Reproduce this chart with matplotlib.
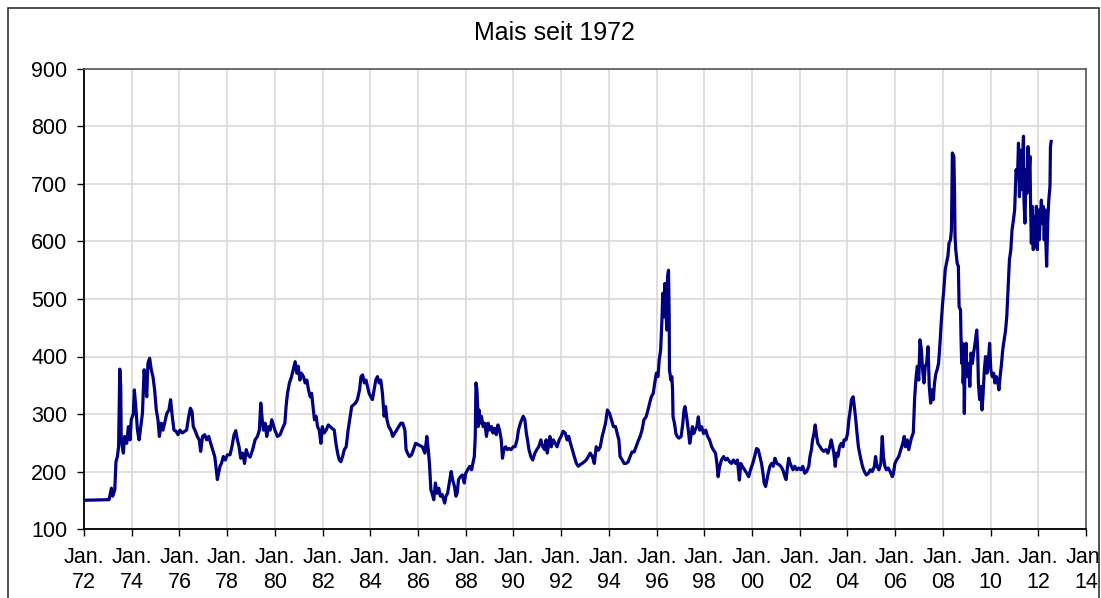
import matplotlib
matplotlib.use("Agg")
import matplotlib.pyplot as plt
from matplotlib.patches import Rectangle

plt.rcParams['font.family'] = ['Liberation Sans', 'DejaVu Sans']

title = "Mais seit 1972"
xticks_years = list(range(1972, 2015, 2))
xtick_labels = ["Jan.\n%02d" % (y % 100) for y in xticks_years]
yticks = list(range(100, 1000, 100))

# --- price readings (decimal year, value), per period ---
dates_70s = [1972.00, 1973.05, 1973.09, 1973.15, 1973.20, 1973.29, 1973.34, 1973.40, 1973.45, 1973.50,
             1973.54, 1973.56, 1973.65, 1973.70, 1973.79, 1973.86, 1973.93, 1973.98, 1974.07, 1974.11,
             1974.17, 1974.24, 1974.31, 1974.38, 1974.45, 1974.52, 1974.57, 1974.63, 1974.68, 1974.75,
             1974.82, 1974.89, 1974.96, 1975.03, 1975.10, 1975.16, 1975.24, 1975.31, 1975.38, 1975.47,
             1975.56, 1975.63, 1975.70, 1975.77, 1975.86, 1975.94, 1976.02, 1976.12, 1976.22, 1976.30,
             1976.39, 1976.46, 1976.53, 1976.58, 1976.67, 1976.75, 1976.83, 1976.89, 1976.97, 1977.06,
             1977.14, 1977.23, 1977.31, 1977.39, 1977.48, 1977.53, 1977.59, 1977.64, 1977.70, 1977.76,
             1977.84, 1977.92, 1978.01, 1978.12, 1978.20, 1978.29, 1978.36, 1978.43, 1978.50, 1978.57,
             1978.65, 1978.73, 1978.80, 1978.87, 1978.96, 1979.07, 1979.17, 1979.27, 1979.35, 1979.41,
             1979.47, 1979.52, 1979.59, 1979.66, 1979.73, 1979.80, 1979.87]
prices_70s = [150, 151, 159, 171, 157, 168, 217, 226, 243, 378,
              348, 255, 232, 261, 249, 278, 255, 290, 301, 342,
              313, 272, 255, 278, 301, 377, 354, 330, 388, 397,
              377, 365, 342, 307, 290, 261, 284, 272, 284, 301,
              307, 325, 296, 272, 270, 264, 272, 267, 270, 272,
              296, 310, 304, 278, 270, 261, 255, 235, 261, 264,
              255, 261, 249, 238, 226, 209, 186, 197, 209, 214,
              226, 220, 229, 229, 243, 264, 271, 255, 243, 223,
              232, 214, 238, 229, 225, 238, 255, 261, 272, 319,
              290, 272, 284, 261, 278, 272, 290]

dates_80s = [1980.00, 1980.11, 1980.22, 1980.32, 1980.42, 1980.47, 1980.53, 1980.61, 1980.70, 1980.77,
             1980.85, 1980.92, 1980.98, 1981.05, 1981.11, 1981.20, 1981.27, 1981.34, 1981.41, 1981.48,
             1981.54, 1981.60, 1981.66, 1981.73, 1981.79, 1981.86, 1981.93, 1981.99, 1982.07, 1982.15,
             1982.24, 1982.32, 1982.40, 1982.49, 1982.56, 1982.63, 1982.70, 1982.77, 1982.84, 1982.91,
             1982.99, 1983.07, 1983.16, 1983.22, 1983.30, 1983.38, 1983.46, 1983.55, 1983.61, 1983.68,
             1983.75, 1983.82, 1983.88, 1983.95, 1984.02, 1984.09, 1984.16, 1984.23, 1984.30, 1984.37,
             1984.44, 1984.51, 1984.58, 1984.64, 1984.70, 1984.77, 1984.86, 1984.94, 1985.03, 1985.11,
             1985.20, 1985.28, 1985.36, 1985.45, 1985.50, 1985.56, 1985.64, 1985.73, 1985.81, 1985.90,
             1986.04, 1986.18, 1986.29, 1986.37, 1986.43, 1986.48, 1986.54, 1986.59, 1986.66, 1986.73,
             1986.80, 1986.87, 1986.94, 1987.01, 1987.12, 1987.17, 1987.24, 1987.31, 1987.39, 1987.45,
             1987.53, 1987.59, 1987.64, 1987.70, 1987.78, 1987.86, 1987.94, 1988.00, 1988.08, 1988.17,
             1988.25, 1988.30, 1988.36, 1988.40, 1988.43, 1988.47, 1988.50, 1988.52, 1988.56, 1988.61,
             1988.66, 1988.73, 1988.80, 1988.87, 1988.94, 1989.01, 1989.08, 1989.14, 1989.21, 1989.28,
             1989.35, 1989.42, 1989.49, 1989.54, 1989.60, 1989.67, 1989.74, 1989.82, 1989.90, 1989.99]
prices_80s = [272, 261, 264, 275, 284, 313, 336, 354, 365, 377,
              391, 371, 383, 359, 371, 365, 354, 359, 342, 330,
              336, 313, 290, 296, 278, 272, 249, 278, 267, 272,
              281, 278, 275, 272, 249, 232, 220, 217, 226, 238,
              243, 272, 296, 313, 316, 319, 325, 342, 365, 368,
              354, 359, 348, 336, 330, 325, 342, 359, 365, 354,
              359, 336, 296, 313, 290, 278, 272, 261, 267, 272,
              278, 284, 284, 272, 238, 232, 226, 229, 238, 249,
              246, 243, 232, 261, 238, 214, 168, 162, 151, 180,
              162, 171, 157, 160, 145, 157, 162, 180, 200, 186,
              174, 157, 162, 186, 191, 194, 180, 197, 203, 209,
              203, 214, 226, 261, 354, 342, 313, 278, 307, 284,
              296, 278, 284, 261, 284, 272, 278, 267, 275, 264,
              281, 272, 255, 223, 238, 243, 238, 240, 238, 243]

dates_90s = [1990.07, 1990.15, 1990.21, 1990.29, 1990.35, 1990.41, 1990.48, 1990.54, 1990.59, 1990.65,
             1990.73, 1990.81, 1990.90, 1990.98, 1991.06, 1991.15, 1991.23, 1991.31, 1991.37, 1991.42,
             1991.48, 1991.53, 1991.59, 1991.67, 1991.75, 1991.83, 1991.92, 1992.00, 1992.08, 1992.17,
             1992.25, 1992.32, 1992.39, 1992.47, 1992.55, 1992.64, 1992.72, 1992.80, 1992.88, 1992.97,
             1993.05, 1993.14, 1993.22, 1993.31, 1993.39, 1993.47, 1993.56, 1993.64, 1993.72, 1993.79,
             1993.86, 1993.94, 1994.03, 1994.11, 1994.19, 1994.28, 1994.35, 1994.42, 1994.47, 1994.56,
             1994.64, 1994.72, 1994.81, 1994.89, 1994.97, 1995.06, 1995.14, 1995.22, 1995.31, 1995.39,
             1995.47, 1995.56, 1995.64, 1995.71, 1995.78, 1995.86, 1995.92, 1995.99, 1996.06, 1996.11,
             1996.17, 1996.22, 1996.26, 1996.31, 1996.35, 1996.39, 1996.43, 1996.46, 1996.50, 1996.53,
             1996.54, 1996.60, 1996.64, 1996.67, 1996.69, 1996.75, 1996.81, 1996.86, 1996.94, 1997.03,
             1997.10, 1997.15, 1997.19, 1997.26, 1997.33, 1997.39, 1997.44, 1997.50, 1997.56, 1997.61,
             1997.69, 1997.75, 1997.81, 1997.89, 1997.97, 1998.06, 1998.14, 1998.22, 1998.31, 1998.39,
             1998.47, 1998.53, 1998.58, 1998.64, 1998.72, 1998.81, 1998.89, 1998.97, 1999.06, 1999.14,
             1999.22, 1999.31, 1999.39, 1999.47, 1999.53, 1999.61, 1999.69, 1999.78, 1999.86, 1999.94]
prices_90s = [243, 255, 272, 284, 290, 296, 290, 267, 255, 238,
              226, 220, 232, 238, 243, 255, 243, 238, 255, 232,
              249, 261, 243, 255, 249, 243, 255, 261, 270, 267,
              255, 261, 249, 238, 226, 214, 209, 212, 214, 217,
              220, 226, 232, 226, 214, 243, 237, 243, 261, 272,
              284, 307, 301, 290, 278, 278, 266, 255, 226, 220,
              214, 214, 217, 226, 234, 234, 243, 252, 261, 272,
              290, 295, 307, 319, 330, 336, 353, 371, 365, 394,
              411, 458, 510, 469, 527, 481, 446, 539, 550, 469,
              377, 359, 365, 342, 295, 284, 266, 261, 258, 261,
              284, 307, 313, 295, 272, 249, 261, 278, 266, 272,
              278, 295, 272, 278, 266, 272, 261, 255, 243, 237,
              232, 214, 191, 208, 220, 226, 220, 223, 217, 214,
              220, 214, 220, 185, 214, 208, 203, 197, 191, 203]

dates_00s = [2000.03, 2000.11, 2000.19, 2000.26, 2000.33, 2000.40, 2000.46, 2000.51, 2000.57, 2000.63,
             2000.68, 2000.75, 2000.82, 2000.89, 2000.96, 2001.04, 2001.13, 2001.21, 2001.29, 2001.38,
             2001.43, 2001.49, 2001.54, 2001.60, 2001.65, 2001.72, 2001.79, 2001.88, 2001.96, 2002.04,
             2002.13, 2002.21, 2002.29, 2002.38, 2002.43, 2002.49, 2002.54, 2002.60, 2002.65, 2002.71,
             2002.76, 2002.85, 2002.93, 2003.01, 2003.10, 2003.18, 2003.26, 2003.32, 2003.38, 2003.43,
             2003.49, 2003.54, 2003.60, 2003.67, 2003.74, 2003.81, 2003.86, 2003.94, 2004.01, 2004.06,
             2004.12, 2004.17, 2004.24, 2004.29, 2004.35, 2004.40, 2004.46, 2004.51, 2004.57, 2004.63,
             2004.71, 2004.79, 2004.88, 2004.96, 2005.04, 2005.13, 2005.18, 2005.24, 2005.32, 2005.40,
             2005.46, 2005.51, 2005.57, 2005.63, 2005.71, 2005.79, 2005.88, 2005.93, 2005.99, 2006.06,
             2006.15, 2006.24, 2006.32, 2006.38, 2006.43, 2006.51, 2006.57, 2006.63, 2006.68, 2006.76,
             2006.82, 2006.88, 2006.93, 2006.99, 2007.04, 2007.10, 2007.15, 2007.21, 2007.26, 2007.32,
             2007.38, 2007.43, 2007.49, 2007.54, 2007.60, 2007.65, 2007.71, 2007.76, 2007.82, 2007.88,
             2007.93, 2007.99, 2008.04, 2008.10, 2008.15, 2008.21, 2008.26, 2008.32, 2008.36, 2008.40,
             2008.46, 2008.49, 2008.51, 2008.54, 2008.60, 2008.65, 2008.68, 2008.74, 2008.76, 2008.79,
             2008.82, 2008.85, 2008.88, 2008.90, 2008.93, 2008.97, 2009.01, 2009.07, 2009.13, 2009.18,
             2009.24, 2009.29, 2009.35, 2009.42, 2009.46, 2009.49, 2009.54, 2009.60, 2009.64, 2009.68,
             2009.74, 2009.79, 2009.85, 2009.90, 2009.96]
prices_00s = [214, 226, 240, 238, 226, 214, 197, 180, 174, 186,
              197, 209, 214, 209, 223, 214, 212, 209, 203, 191,
              186, 209, 223, 214, 209, 203, 209, 203, 206, 203,
              209, 197, 200, 209, 226, 238, 255, 267, 281, 261,
              249, 243, 238, 235, 238, 232, 243, 255, 243, 232,
              209, 232, 226, 243, 249, 243, 255, 255, 267, 290,
              307, 325, 330, 313, 290, 267, 243, 232, 220, 209,
              200, 194, 197, 203, 200, 209, 226, 209, 203, 214,
              261, 226, 209, 203, 206, 200, 191, 197, 214, 220,
              226, 238, 249, 261, 243, 255, 238, 249, 258, 267,
              330, 365, 383, 359, 429, 412, 377, 354, 383, 388,
              417, 348, 319, 342, 325, 354, 371, 377, 388, 423,
              458, 493, 516, 551, 562, 574, 597, 603, 620, 754,
              748, 684, 609, 586, 562, 557, 487, 481, 435, 388,
              423, 354, 383, 301, 388, 423, 365, 388, 348, 406,
              388, 406, 423, 446, 412, 354, 325, 348, 307, 330,
              377, 400, 371, 388, 423]

dates_10s = [2010.01, 2010.07, 2010.13, 2010.18, 2010.24, 2010.29, 2010.35, 2010.40, 2010.46, 2010.51,
             2010.57, 2010.63, 2010.68, 2010.74, 2010.79, 2010.85, 2010.90, 2010.96, 2011.01, 2011.07,
             2011.13, 2011.17, 2011.21, 2011.25, 2011.29, 2011.33, 2011.38, 2011.40, 2011.44, 2011.49,
             2011.53, 2011.57, 2011.61, 2011.65, 2011.68, 2011.71, 2011.75, 2011.79, 2011.83, 2011.88,
             2011.92, 2011.96, 2012.00, 2012.04, 2012.08, 2012.13, 2012.17, 2012.21, 2012.25, 2012.29,
             2012.32, 2012.35, 2012.38, 2012.40, 2012.44, 2012.49, 2012.51, 2012.54]
prices_10s = [377, 365, 371, 354, 365, 359, 342, 365, 388, 412,
              429, 446, 470, 522, 568, 586, 620, 638, 655, 725,
              713, 771, 678, 759, 690, 736, 783, 672, 632, 725,
              684, 765, 713, 748, 655, 597, 661, 586, 643, 591,
              661, 586, 655, 603, 638, 672, 632, 661, 603, 655,
              597, 557, 609, 638, 672, 696, 765, 774]

dates = dates_70s + dates_80s + dates_90s + dates_00s + dates_10s
prices = prices_70s + prices_80s + prices_90s + prices_00s + prices_10s

W, H = 1101, 598
fig = plt.figure(figsize=(W / 100, H / 100), dpi=100)
ax = fig.add_axes([84 / W, 1 - 529 / H, (1086 - 84) / W, (529 - 69) / H])

ax.plot(dates, prices, color='#000080', linewidth=2.3, solid_joinstyle='round', zorder=3)

ax.set_xlim(1972, 2014)
ax.set_ylim(100, 900)
ax.set_xticks(xticks_years)
ax.set_xticklabels(xtick_labels, linespacing=1.25)
ax.set_yticks(yticks)
ax.grid(True, color='#d9d9d9', linewidth=1.2, zorder=0)
ax.set_axisbelow(True)
ax.tick_params(axis='both', direction='out', length=5, width=1, colors='black',
               labelsize=15.5)
ax.tick_params(axis='y', pad=7)
ax.tick_params(axis='x', pad=8)
for s in ['left', 'bottom']:
    ax.spines[s].set_color('black')
    ax.spines[s].set_linewidth(1.3)
for s in ['top', 'right']:
    ax.spines[s].set_color('#555555')
    ax.spines[s].set_linewidth(1.2)

fig.text(554 / W, 1 - 33 / H, title, ha='center', va='center', fontsize=18)

fig.patches.append(Rectangle((8 / W, -0.1), (1099 - 8) / W, 1.1 - 8 / H,
                             transform=fig.transFigure, fill=False,
                             edgecolor='#333333', linewidth=1.2))

fig.savefig('out.png', dpi=100)
